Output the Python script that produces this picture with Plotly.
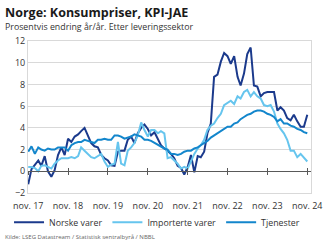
import pandas as pd
import plotly.graph_objects as go

dates = pd.date_range("2017-11-01", "2024-11-01", freq="MS")

norske_varer = [
    -1.2, 0.2, 0.6, 1.0, 0.5, 1.4, 0.0, -0.5, 0.1, 1.5,
    2.2, 1.5, 3.0, 2.7, 3.2, 3.4, 3.7, 4.0, 3.3, 2.6,
    2.3, 2.2, 1.5, 1.2, 1.0, 0.55, 0.5, 1.8, 1.9, 1.9,
    2.9, 3.2, 2.6, 3.5, 4.0, 4.3, 3.9, 3.3, 3.6, 3.0,
    2.4, 2.1, 1.9, 1.6, 1.2, 0.5, 0.3, -0.3, 0.4, 1.5,
    -0.1, 1.4, 1.3, 1.8, 3.5, 4.4, 8.7, 8.9, 10.1, 10.9,
    10.6, 9.9, 10.6, 8.7, 7.9, 9.0, 10.8, 11.4, 7.9, 7.8,
    6.9, 7.2, 7.3, 7.3, 7.3, 5.6, 5.9, 5.6, 4.9, 4.7,
    5.2, 4.6, 4.1, 4.1, 5.2,
]
importerte_varer = [
    0.4, 0.4, 0.3, 0.0, 0.5, 0.55, 0.4, 0.25, 0.7, 1.0,
    1.2, 1.2, 1.2, 1.3, 1.2, 1.4, 2.2, 1.9, 1.6, 1.3,
    1.2, 1.4, 1.6, 0.9, 0.4, 0.6, 0.7, 2.7, 0.7, 0.55,
    1.9, 2.2, 2.6, 3.3, 4.5, 3.8, 3.2, 3.8, 3.8, 3.5,
    3.7, 3.5, 1.2, 1.3, 1.0, 0.7, 0.25, 0.4, 0.25, 1.0,
    1.6, 2.1, 2.4, 2.9, 3.8, 4.2, 4.4, 4.9, 5.3, 6.1,
    6.3, 6.5, 6.2, 6.9, 6.7, 7.3, 7.5, 6.9, 7.3, 6.9,
    6.7, 6.1, 6.0, 6.1, 5.5, 4.4, 3.9, 3.5, 2.9, 1.9,
    1.9, 1.3, 1.6, 1.2, 0.9,
]
tjenester = [
    1.8, 2.3, 1.6, 2.2, 2.0, 1.9, 2.1, 2.0, 2.0, 2.2,
    2.2, 2.2, 1.9, 2.4, 2.6, 2.7, 2.7, 2.9, 2.8, 2.7,
    2.6, 2.9, 2.9, 3.0, 2.9, 2.9, 3.3, 3.3, 3.2, 3.0,
    3.1, 3.2, 3.4, 3.3, 3.2, 2.9, 2.9, 2.8, 2.6, 2.4,
    2.3, 2.1, 2.0, 1.6, 1.6, 1.5, 1.6, 1.8, 1.9, 1.9,
    2.1, 2.2, 2.4, 2.6, 2.8, 3.1, 3.3, 3.5, 3.7, 3.9,
    4.1, 4.1, 4.4, 4.5, 4.8, 5.0, 5.2, 5.3, 5.5, 5.6,
    5.6, 5.5, 5.3, 5.2, 5.0, 4.6, 4.8, 4.4, 4.4, 4.2,
    4.1, 3.9, 3.8, 3.6, 3.5,
]

tick_dates = pd.date_range("2017-11-01", "2024-11-01", freq="12MS")
tick_labels = ["nov. 17", "nov. 18", "nov. 19", "nov. 20", "nov. 21", "nov. 22", "nov. 23", "nov. 24"]

series = [
    ("Norske varer", norske_varer, "#1B3A8C"),
    ("Importerte varer", importerte_varer, "#66C5EE"),
    ("Tjenester", tjenester, "#1386CC"),
]

FONT = "Open Sans"
fig = go.Figure()
for name, vals, col in series:
    fig.add_trace(go.Scatter(x=dates, y=vals, name=name, mode="lines",
                             line=dict(color=col, width=2)))

xrange = ["2017-10-30", "2024-12-05"]
y_min, y_max = -2, 12
zero_pos = (0 - y_min) / (y_max - y_min)

axis_common = dict(range=xrange, tickvals=tick_dates, showgrid=False)
fig.update_layout(
    width=335, height=245,
    margin=dict(l=28, r=24, t=41, b=52, autoexpand=False),
    paper_bgcolor="white", plot_bgcolor="white",
    font=dict(family=FONT, size=9, color="#333333"),
    showlegend=True,
    legend=dict(orientation="h", x=-0.067, xanchor="left", y=-0.193, yanchor="middle",
                font=dict(size=8.8, color="#333333"), itemwidth=30,
                tracegroupgap=0, bgcolor="rgba(0,0,0,0)", borderwidth=0),
    xaxis=dict(**axis_common, ticktext=tick_labels, showline=True, mirror=True,
               linecolor="#d9d9d9", linewidth=1, ticks="", ticklabelstandoff=4,
               tickfont=dict(size=9, color="#333333")),
    xaxis2=dict(**axis_common, overlaying="x", anchor="free", position=zero_pos,
                showline=True, linecolor="#595959", linewidth=1, ticks="outside",
                ticklen=3, tickcolor="#595959", showticklabels=False),
    xaxis3=dict(**axis_common, overlaying="x", anchor="free", position=zero_pos,
                showline=False, ticks="inside", ticklen=3, tickcolor="#595959",
                showticklabels=False),
    yaxis=dict(range=[y_min, y_max], dtick=2, showgrid=True, gridcolor="#d9d9d9",
               gridwidth=1, zeroline=False, showline=True, mirror=True,
               linecolor="#d9d9d9", ticks="", tickfont=dict(size=9, color="#333333")),
)
# invisible traces so the overlay axes are drawn
for ax in ["x2", "x3"]:
    fig.add_trace(go.Scatter(x=[dates[0]], y=[None], xaxis=ax, showlegend=False,
                             hoverinfo="skip", mode="lines"))

fig.add_annotation(text="<b>Norge: Konsumpriser, KPI-JAE</b>", xref="paper", yref="paper",
                   x=0, xshift=-25, y=1, yshift=29, xanchor="left", yanchor="middle",
                   showarrow=False, font=dict(size=12.5, color="#1a1a1a", family=FONT))
fig.add_annotation(text="Prosentvis endring år/år. Etter leveringssektor", xref="paper", yref="paper",
                   x=0, xshift=-25, y=1, yshift=14, xanchor="left", yanchor="middle",
                   showarrow=False, font=dict(size=8.8, color="#333333", family=FONT))
fig.add_annotation(text="Kilde: LSEG Datastream / Statistisk sentralbyrå / NBBL", xref="paper", yref="paper",
                   x=0, xshift=-25, y=0, yshift=-44, xanchor="left", yanchor="middle",
                   showarrow=False, font=dict(size=6, color="#666666", family=FONT))

fig.write_html("out.html")
